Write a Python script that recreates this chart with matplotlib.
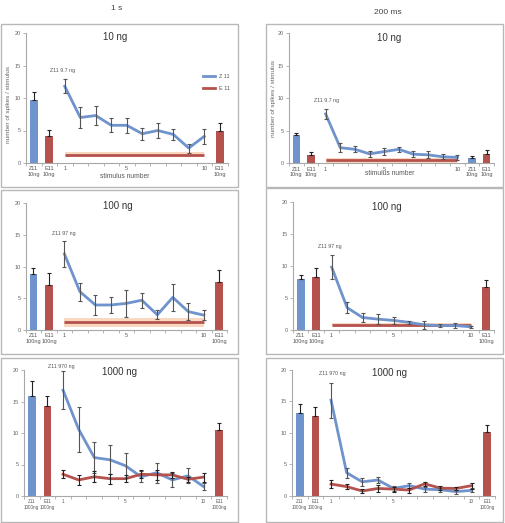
import matplotlib.pyplot as plt
from matplotlib.patches import Rectangle
from matplotlib.lines import Line2D

plt.rcParams['font.family'] = ['Liberation Sans', 'DejaVu Sans']

# responses to stimulus 1..10 (spikes / stimulus), mean and error
stim = list(range(1, 11))

# 1 s, 10 ng
z11_1s_10 = [11.8, 7.0, 7.3, 5.8, 5.8, 4.5, 5.0, 4.4, 2.3, 4.1]
z11_1s_10_err = [1.1, 1.6, 1.45, 1.1, 1.2, 0.9, 1.1, 0.9, 0.7, 1.1]
e11_1s_10 = 1.25
e11_1s_10_band = 0.4
bars_1s_10 = [9.7, 4.1, 4.9]
bars_1s_10_err = [1.2, 1.0, 1.2]
bars_1s_10_lab = ['Z11\n10ng', 'E11\n10ng', 'E11\n10ng']

# 200 ms, 10 ng
z11_200_10 = [7.6, 2.4, 2.15, 1.45, 1.8, 2.15, 1.4, 1.3, 1.0, 0.9]
z11_200_10_err = [0.8, 0.7, 0.45, 0.45, 0.5, 0.4, 0.45, 0.55, 0.4, 0.45]
e11_200_10 = 0.45
e11_200_10_band = 0.35
bars_200_10 = [4.3, 1.3, 0.8, 1.4]
bars_200_10_err = [0.4, 0.5, 0.35, 0.6]
bars_200_10_lab = ['Z11\n10ng', 'E11\n10ng', 'Z11\n10ng', 'E11\n10ng']

# 1 s, 100 ng
z11_1s_100 = [12.0, 6.05, 3.95, 3.95, 4.2, 4.7, 2.4, 5.15, 2.9, 2.35]
z11_1s_100_err = [2.05, 1.4, 1.6, 1.2, 2.15, 1.2, 0.7, 2.15, 1.35, 0.85]
e11_1s_100 = 1.2
e11_1s_100_band = 0.75
bars_1s_100 = [8.8, 7.1, 7.6]
bars_1s_100_err = [1.05, 1.85, 1.9]
bars_1s_100_lab = ['Z11\n100ng', 'E11\n100ng', 'E11\n100ng']

# 200 ms, 100 ng
z11_200_100 = [9.85, 3.5, 1.95, 1.7, 1.5, 1.2, 0.8, 0.7, 0.7, 0.5]
z11_200_100_err = [1.9, 0.85, 0.75, 0.8, 0.6, 0.2, 0.6, 0.3, 0.4, 0.15]
e11_200_100 = 0.73
e11_200_100_band = 0.3
bars_200_100 = [7.95, 8.35, 6.7]
bars_200_100_err = [0.6, 1.3, 1.15]
bars_200_100_lab = ['Z11\n100ng', 'E11\n100ng', 'E11\n100ng']

# 1 s, 1000 ng
z11_1s_1000 = [16.8, 10.6, 6.1, 5.75, 4.8, 3.05, 3.7, 2.55, 3.2, 1.5]
z11_1s_1000_err = [3.0, 3.55, 2.5, 2.3, 1.95, 0.85, 1.6, 1.05, 1.2, 0.5]
e11_1s_1000 = [3.45, 2.55, 3.05, 2.75, 2.75, 3.45, 3.35, 3.35, 2.65, 3.0]
e11_1s_1000_err = [0.65, 0.85, 0.85, 0.8, 0.6, 0.65, 0.75, 0.45, 0.4, 0.7]
bars_1s_1000 = [15.9, 14.35, 10.4]
bars_1s_1000_err = [2.35, 1.6, 1.25]
bars_1s_1000_lab = ['Z11\n1000ng', 'E11\n1000ng', 'E11\n1000ng']

# 200 ms, 1000 ng
z11_200_1000 = [15.2, 3.65, 2.2, 2.5, 1.15, 1.6, 1.05, 0.95, 0.65, 0.85]
z11_200_1000_err = [2.8, 0.8, 0.6, 0.55, 0.4, 0.4, 0.4, 0.3, 0.3, 0.3]
e11_200_1000 = [1.85, 1.45, 0.75, 1.15, 1.05, 0.9, 1.9, 1.2, 1.15, 1.6]
e11_200_1000_err = [0.7, 0.4, 0.3, 0.5, 0.4, 0.4, 0.35, 0.3, 0.3, 0.5]
bars_200_1000 = [13.1, 12.7, 10.1]
bars_200_1000_err = [1.5, 1.35, 1.15]
bars_200_1000_lab = ['Z11\n1000ng', 'E11\n1000ng', 'E11\n1000ng']

BLUE = '#6f93cc'
RED = '#b5524e'
BAND = '#f8d8c0'
GRAY = '#666666'

W, H = 505, 523
fig = plt.figure(figsize=(W / 100, H / 100), dpi=100)


def frect(x0, x1, y0, y1):
    return [x0 / W, 1 - y1 / H, (x1 - x0) / W, (y1 - y0) / H]


def ftext(x, y, s, **kw):
    kw.setdefault('ha', 'center')
    kw.setdefault('va', 'center')
    kw.setdefault('color', '#444444')
    fig.text(x / W, 1 - y / H, s, **kw)


def panel(box, axpx, title, tpos, labels, bars, bars_err, z, z_err,
          e, e_err=None, band=None, note=None, npos=None, labsize=4):
    fig.add_artist(Rectangle((box[0] / W, 1 - box[3] / H),
                             (box[1] - box[0]) / W, (box[3] - box[2]) / H,
                             transform=fig.transFigure, fill=False,
                             ec='#b8b8b8', lw=1.0))
    ax = fig.add_axes(frect(*axpx))
    ax.patch.set_alpha(0)
    nright = len(bars) - 2
    n = 12 + nright
    sp = [i + 2 for i in range(10)]
    bpos = [0, 1] + [12 + i for i in range(nright)]
    bcol = [BLUE if l.startswith('Z') else RED for l in labels]

    ax.bar(bpos, bars, width=0.5, color=bcol, zorder=2)
    ax.errorbar(bpos, bars, yerr=[[0] * len(bars), bars_err], fmt='none',
                ecolor='#222222', elinewidth=0.8, capsize=1.6, capthick=0.8,
                zorder=3)

    if band is not None:
        ax.fill_between(sp, [e - band] * 10, [e + band] * 10, color=BAND,
                        lw=0, zorder=1)
        ax.plot(sp, [e] * 10, color=RED, lw=2.0, zorder=2,
                solid_capstyle='butt')
    ax.plot(sp, z, color=BLUE, lw=2.0, zorder=3)
    ax.errorbar(sp, z, yerr=z_err, fmt='none', ecolor='#555555',
                elinewidth=0.8, capsize=1.6, capthick=0.8, zorder=4)
    if band is None:
        ax.plot(sp, e, color=RED, lw=2.0, zorder=3.5)
        ax.errorbar(sp, e, yerr=e_err, fmt='none', ecolor='#222222',
                    elinewidth=0.8, capsize=1.6, capthick=0.8, zorder=4)

    ax.set_xlim(-0.5, n - 0.5)
    ax.set_ylim(0, 20)
    ax.set_yticks([0, 5, 10, 15, 20])
    ax.set_xticks(bpos[:2] + [2, 6, 11] + bpos[2:])
    ax.set_xticklabels(labels[:2] + ['1', '5', '10'] + labels[2:],
                       linespacing=1.1)
    ax.set_xticks([i - 0.5 for i in range(n + 1)], minor=True)
    for s in ['top', 'right']:
        ax.spines[s].set_visible(False)
    for s in ['left', 'bottom']:
        ax.spines[s].set_color('#a8a8a8')
        ax.spines[s].set_linewidth(0.8)
    ax.tick_params(axis='y', length=2, width=0.6, color='#a8a8a8',
                   labelsize=4, labelcolor=GRAY, pad=1.5)
    ax.tick_params(axis='x', which='major', length=0, labelsize=labsize,
                   labelcolor='#555555', pad=2.5)
    ax.tick_params(axis='x', which='minor', length=2, width=0.6,
                   color='#a8a8a8')
    ftext(tpos[0], tpos[1], title, fontsize=7, color='#333333')
    if note is not None:
        ax.text(npos[0], npos[1], note, fontsize=3.8, color='#555555',
                ha='left', va='center', clip_on=False)
    return ax


ax1 = panel((0.5, 238, 24, 187), (26, 227.5, 33, 163), '10 ng', (115, 37),
            bars_1s_10_lab, bars_1s_10, bars_1s_10_err,
            z11_1s_10, z11_1s_10_err, e11_1s_10, band=e11_1s_10_band,
            note='Z11 9.7 ng', npos=(1.05, 14.3))
panel((266, 503, 24, 187), (289, 494, 33.3, 163.3), '10 ng', (389, 38),
      bars_200_10_lab, bars_200_10, bars_200_10_err,
      z11_200_10, z11_200_10_err, e11_200_10, band=e11_200_10_band,
      note='Z11 9.7 ng', npos=(1.2, 9.7))
panel((0.5, 238, 190, 354), (25.7, 227, 203.3, 330), '100 ng', (118, 206),
      bars_1s_100_lab, bars_1s_100, bars_1s_100_err,
      z11_1s_100, z11_1s_100_err, e11_1s_100, band=e11_1s_100_band,
      note='Z11 97 ng', npos=(1.2, 15.3))
panel((266, 503, 188, 354), (293, 494, 202.3, 330), '100 ng', (387, 207),
      bars_200_100_lab, bars_200_100, bars_200_100_err,
      z11_200_100, z11_200_100_err, e11_200_100, band=e11_200_100_band,
      note='Z11 97 ng', npos=(1.1, 13.0))
panel((0.5, 238, 358, 522), (24, 227, 370, 496), '1000 ng', (119, 372),
      bars_1s_1000_lab, bars_1s_1000, bars_1s_1000_err,
      z11_1s_1000, z11_1s_1000_err, e11_1s_1000, e_err=e11_1s_1000_err,
      note='Z11 970 ng', npos=(1.04, 20.5), labsize=3.3)
panel((266, 503, 358, 522), (292, 495, 370, 495.7), '1000 ng', (390, 373),
      bars_200_1000_lab, bars_200_1000, bars_200_1000_err,
      z11_200_1000, z11_200_1000_err, e11_200_1000, e_err=e11_200_1000_err,
      note='Z11 970 ng', npos=(1.23, 19.4), labsize=3.3)

# legend only in the first panel
handles = [Line2D([], [], color=BLUE, lw=2.0), Line2D([], [], color=RED, lw=2.0)]
ax1.legend(handles, ['Z 11', 'E 11'], loc='upper right', frameon=False,
           bbox_to_anchor=(1.04, 0.72), fontsize=4, handlelength=2.2,
           labelspacing=1.2, labelcolor='#555555')

ftext(117, 8, '1 s', fontsize=6)
ftext(388, 13, '200 ms', fontsize=6)
ftext(9, 104, 'number of spikes / stimulus', fontsize=4.6, rotation=90,
      color='#666666')
ftext(273, 98, 'number of spikes / stimulus', fontsize=4.6, rotation=90,
      color='#666666')
ftext(125, 177, 'stimulus number', fontsize=4.8, color='#555555')
ftext(390, 174, 'stimulus number', fontsize=4.8, color='#555555')

fig.savefig('out.png', dpi=100)
